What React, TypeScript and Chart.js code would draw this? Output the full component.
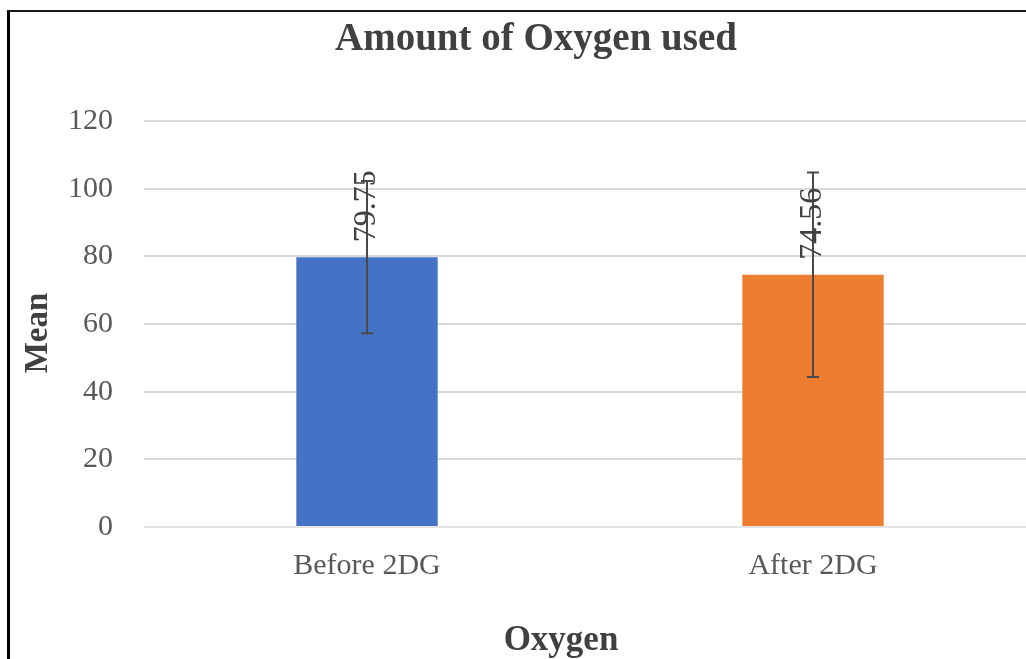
import React, { useEffect, useRef } from "react";
import { Chart, registerables } from "chart.js";

Chart.register(...registerables);

const TITLE = "Amount of Oxygen used";
const X_TITLE = "Oxygen";
const Y_TITLE = "Mean";
const categories = ["Before 2DG", "After 2DG"];
const means = [79.75, 74.56];
const errors = [22.5, 30.2];
const barColors = ["#4472C4", "#ED7D31"];
const yTicks = [0, 20, 40, 60, 80, 100, 120];

const SERIF = "'Liberation Serif', 'Times New Roman', serif";

const overlayPlugin = {
  id: "overlay",
  afterDatasetsDraw(chart: any) {
    const { ctx, scales } = chart;
    const meta = chart.getDatasetMeta(0);
    const y = scales.y;
    ctx.save();
    // baseline over bars
    ctx.strokeStyle = "rgba(230,230,230,0.8)";
    ctx.lineWidth = 2;
    ctx.beginPath();
    ctx.moveTo(chart.chartArea.left, y.getPixelForValue(0));
    ctx.lineTo(chart.chartArea.right, y.getPixelForValue(0));
    ctx.stroke();
    meta.data.forEach((bar: any, i: number) => {
      const x = bar.x;
      const top = y.getPixelForValue(means[i] + errors[i]);
      const bot = y.getPixelForValue(means[i] - errors[i]);
      ctx.strokeStyle = "#4a4a4a";
      ctx.lineWidth = 2;
      ctx.beginPath();
      ctx.moveTo(x, top);
      ctx.lineTo(x, bot);
      ctx.moveTo(x - 6, top);
      ctx.lineTo(x + 6, top);
      ctx.moveTo(x - 6, bot);
      ctx.lineTo(x + 6, bot);
      ctx.stroke();
      // data label
      ctx.save();
      ctx.translate(x, bar.y - 15);
      ctx.rotate(-Math.PI / 2);
      ctx.fillStyle = "#404040";
      ctx.font = `32px ${SERIF}`;
      ctx.textAlign = "left";
      ctx.textBaseline = "middle";
      ctx.fillText(String(means[i]), 0, 0);
      ctx.restore();
    });
    // chart title
    ctx.fillStyle = "#404040";
    ctx.font = `bold 39px ${SERIF}`;
    ctx.textAlign = "center";
    ctx.textBaseline = "middle";
    ctx.fillText(TITLE, 536, 40);
    // x axis title
    ctx.font = `bold 35px ${SERIF}`;
    ctx.fillText(X_TITLE, 561, 641);
    // y axis title
    ctx.save();
    ctx.translate(38, 333);
    ctx.rotate(-Math.PI / 2);
    ctx.font = `bold 33px ${SERIF}`;
    ctx.fillText(Y_TITLE, 0, 0);
    ctx.restore();
    ctx.restore();
  },
};

export default function App() {
  const ref = useRef<HTMLCanvasElement | null>(null);
  useEffect(() => {
    if (!ref.current) return;
    const chart = new Chart(ref.current, {
      type: "bar",
      data: {
        labels: categories,
        datasets: [
          {
            data: means,
            backgroundColor: barColors,
            borderWidth: 0,
            barPercentage: 0.317,
            categoryPercentage: 1,
          },
        ],
      },
      options: {
        responsive: false,
        animation: false,
        layout: { padding: { top: 121, right: 4, bottom: 0, left: 0 } },
        plugins: {
          legend: { display: false },
          title: { display: false },
          tooltip: { enabled: false },
        },
        scales: {
          x: {
            grid: { display: false, drawTicks: false },
            border: { display: false },
            ticks: {
              color: "#595959",
              font: { family: SERIF, size: 30 },
              padding: 21,
            },
            afterFit: (s: any) => {
              s.height = 132;
            },
          },
          y: {
            min: 0,
            max: 120,
            afterBuildTicks: (s: any) => {
              s.ticks = yTicks.map((v) => ({ value: v }));
            },
            grid: { color: "#d9d9d9", lineWidth: 2, drawTicks: false },
            border: { display: false },
            ticks: {
              color: "#595959",
              font: { family: SERIF, size: 30 },
              padding: 31,
            },
            afterFit: (s: any) => {
              s.width = 144;
            },
          },
        },
      },
      plugins: [overlayPlugin],
    });
    return () => chart.destroy();
  }, []);

  return (
    <div
      style={{
        position: "fixed",
        left: 0,
        top: 0,
        width: 1026,
        height: 659,
        overflow: "hidden",
        background: "#fff",
      }}
    >
      <canvas
        ref={ref}
        width={1040}
        height={659}
        style={{ position: "absolute", left: 0, top: 0, width: 1040, height: 659 }}
      />
      <div
        style={{
          position: "absolute",
          left: 7,
          top: 10,
          right: 0,
          bottom: 0,
          borderTop: "2px solid #1a1a1a",
          borderLeft: "3px solid #000",
          pointerEvents: "none",
        }}
      />
    </div>
  );
}
